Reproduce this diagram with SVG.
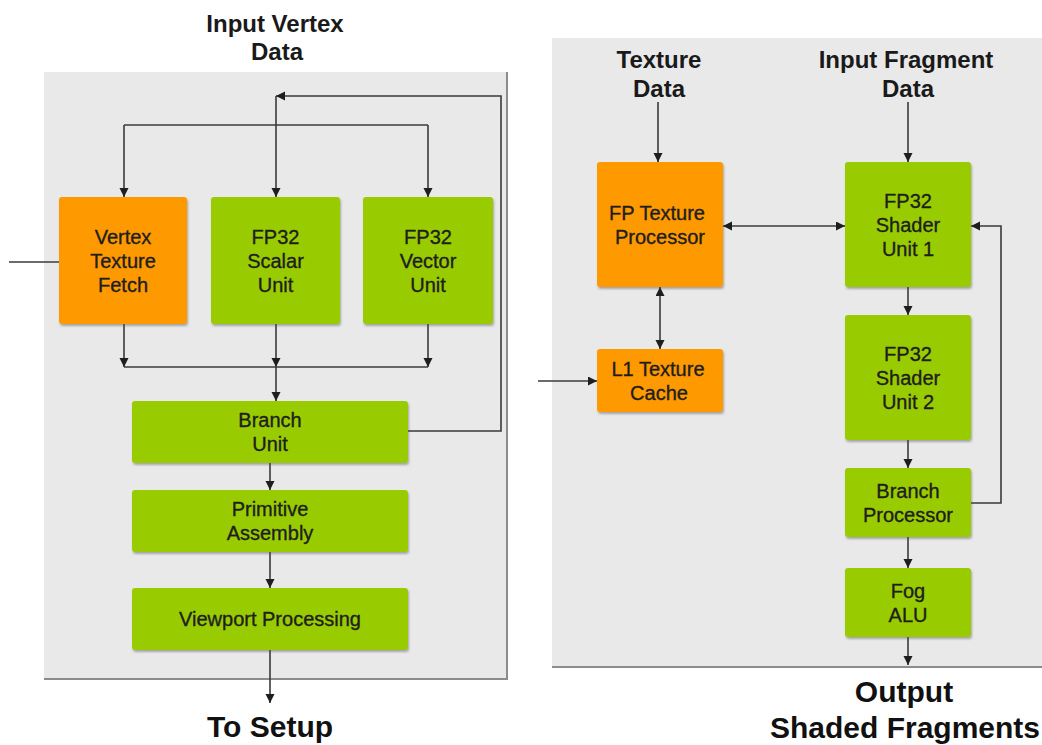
<svg xmlns="http://www.w3.org/2000/svg" width="1042" height="745" viewBox="0 0 1042 745">
<defs>
<style>
.panel{fill:#e9e9e9}
.pedge{fill:none;stroke:#8c8c8c;stroke-width:2}
.orange{fill:#ff9900;filter:url(#sh)}
.green{fill:#99cc00;filter:url(#sh)}
.lbl{font-family:"Liberation Sans",Arial,sans-serif;font-size:20px;fill:#1e1e1e;stroke:#1e1e1e;stroke-width:0.35;text-anchor:middle}
.title{font-family:"Liberation Sans",Arial,sans-serif;font-size:24px;font-weight:bold;fill:#1a1a1a;text-anchor:middle}
.big{font-family:"Liberation Sans",Arial,sans-serif;font-size:30px;font-weight:bold;fill:#111;text-anchor:middle}
.c{fill:none;stroke:#3a3a3a;stroke-width:1.6}
</style>
<filter id="sh" x="-10%" y="-10%" width="120%" height="120%">
<feDropShadow dx="1" dy="2" stdDeviation="0.8" flood-color="#555" flood-opacity="0.45"/>
</filter>
<marker id="a" markerUnits="userSpaceOnUse" markerWidth="10" markerHeight="10" refX="9" refY="4.5" orient="auto-start-reverse">
<path d="M0,0 L9,4.5 L0,9 z" fill="#1e1e1e"/>
</marker>
</defs>
<g id="panel-vertex">
<rect class="panel" x="44" y="72" width="463" height="607"/>
<polyline class="pedge" points="507,72 507,679 44,679"/>
</g>
<g id="panel-fragment">
<rect class="panel" x="552" y="38" width="495" height="629"/>
<line class="pedge" x1="552" y1="667" x2="1042" y2="667"/>
</g>
<text class="title" x="275" y="32">Input Vertex</text>
<text class="title" x="277" y="60">Data</text>
<text class="title" x="659" y="68">Texture</text>
<text class="title" x="659" y="97">Data</text>
<text class="title" x="906" y="68">Input Fragment</text>
<text class="title" x="908" y="97">Data</text>
<text class="big" x="270" y="737">To Setup</text>
<text class="big" x="904" y="702">Output</text>
<text class="big" x="905" y="738">Shaded Fragments</text>
<g id="connectors">
<path class="c" d="M124,125 H428"/>
<path class="c" d="M124,125 V197" marker-end="url(#a)"/>
<path class="c" d="M428,125 V197" marker-end="url(#a)"/>
<path class="c" d="M408,431 H501 V96 H276" marker-end="url(#a)"/>
<path class="c" d="M276,96 V197" marker-end="url(#a)"/>
<path class="c" d="M9,262 H59"/>
<path class="c" d="M124,324 V367" marker-end="url(#a)"/>
<path class="c" d="M276,324 V367" marker-end="url(#a)"/>
<path class="c" d="M428,324 V367" marker-end="url(#a)"/>
<path class="c" d="M124,367 H428"/>
<path class="c" d="M276,367 V401" marker-end="url(#a)"/>
<path class="c" d="M270,463 V490" marker-end="url(#a)"/>
<path class="c" d="M270,552 V588" marker-end="url(#a)"/>
<path class="c" d="M270,650 V703" marker-end="url(#a)"/>
<path class="c" d="M658,102 V162" marker-end="url(#a)"/>
<path class="c" d="M908,102 V162" marker-end="url(#a)"/>
<path class="c" d="M723,226 H845" marker-start="url(#a)" marker-end="url(#a)"/>
<path class="c" d="M660,287 V349" marker-start="url(#a)" marker-end="url(#a)"/>
<path class="c" d="M538,381 H597" marker-end="url(#a)"/>
<path class="c" d="M908,287 V315" marker-end="url(#a)"/>
<path class="c" d="M908,440 V468" marker-end="url(#a)"/>
<path class="c" d="M908,537 V568" marker-end="url(#a)"/>
<path class="c" d="M908,637 V665" marker-end="url(#a)"/>
<path class="c" d="M971,503 H1001 V226 H971" marker-end="url(#a)"/>
</g>
<g id="vertex-texture-fetch">
<rect class="orange" x="59" y="197" width="128" height="127" rx="3"/>
<text class="lbl" x="123" y="243.5">Vertex</text>
<text class="lbl" x="123" y="267.5">Texture</text>
<text class="lbl" x="123" y="291.5">Fetch</text>
</g>
<g id="fp32-scalar-unit">
<rect class="green" x="211" y="197" width="129" height="127" rx="3"/>
<text class="lbl" x="275.5" y="243.5">FP32</text>
<text class="lbl" x="275.5" y="267.5">Scalar</text>
<text class="lbl" x="275.5" y="291.5">Unit</text>
</g>
<g id="fp32-vector-unit">
<rect class="green" x="363" y="197" width="130" height="127" rx="3"/>
<text class="lbl" x="428" y="243.5">FP32</text>
<text class="lbl" x="428" y="267.5">Vector</text>
<text class="lbl" x="428" y="291.5">Unit</text>
</g>
<g id="branch-unit">
<rect class="green" x="132" y="401" width="276" height="62" rx="3"/>
<text class="lbl" x="270" y="427">Branch</text>
<text class="lbl" x="270" y="451">Unit</text>
</g>
<g id="primitive-assembly">
<rect class="green" x="132" y="490" width="276" height="62" rx="3"/>
<text class="lbl" x="270" y="516">Primitive</text>
<text class="lbl" x="270" y="540">Assembly</text>
</g>
<g id="viewport-processing">
<rect class="green" x="132" y="588" width="276" height="62" rx="3"/>
<text class="lbl" x="270" y="626">Viewport Processing</text>
</g>
<g id="fp-texture-processor">
<rect class="orange" x="597" y="162" width="126" height="125" rx="3"/>
<text class="lbl" x="657" y="219.5">FP Texture</text>
<text class="lbl" x="660" y="243.5">Processor</text>
</g>
<g id="l1-texture-cache">
<rect class="orange" x="597" y="349" width="126" height="63" rx="3"/>
<text class="lbl" x="658" y="375.5">L1 Texture</text>
<text class="lbl" x="659" y="399.5">Cache</text>
</g>
<g id="fp32-shader-unit-1">
<rect class="green" x="845" y="162" width="126" height="125" rx="3"/>
<text class="lbl" x="908" y="207.5">FP32</text>
<text class="lbl" x="908" y="231.5">Shader</text>
<text class="lbl" x="908" y="255.5">Unit 1</text>
</g>
<g id="fp32-shader-unit-2">
<rect class="green" x="845" y="315" width="126" height="125" rx="3"/>
<text class="lbl" x="908" y="360.5">FP32</text>
<text class="lbl" x="908" y="384.5">Shader</text>
<text class="lbl" x="908" y="408.5">Unit 2</text>
</g>
<g id="branch-processor">
<rect class="green" x="845" y="468" width="126" height="69" rx="3"/>
<text class="lbl" x="908" y="497.5">Branch</text>
<text class="lbl" x="908" y="521.5">Processor</text>
</g>
<g id="fog-alu">
<rect class="green" x="845" y="568" width="126" height="69" rx="3"/>
<text class="lbl" x="908" y="597.5">Fog</text>
<text class="lbl" x="908" y="621.5">ALU</text>
</g>
</svg>
